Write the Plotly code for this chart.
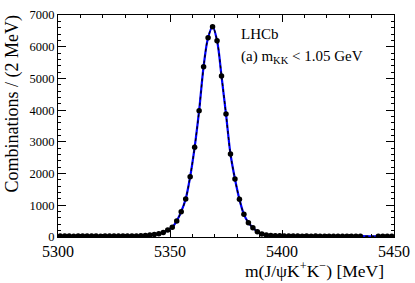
import plotly.graph_objects as go

# bin centres (2 MeV bins)
mass = [5301 + 2 * i for i in range(75)]
counts = [
    30, 28, 32, 27, 30, 29, 31, 28, 30, 27,   # 5301-5319
    30, 29, 31, 30, 28, 33, 32, 35, 40, 48,   # 5321-5339
    60, 78, 105, 140, 220, 305, 504, 798, 1198, 1901,  # 5341-5359
    2828, 3982, 5370, 6284, 6630, 6190, 5076, 3878, 2617, 1829,  # 5361-5379
    1188, 714, 451, 293, 167, 95, 65, 50, 42, 36,  # 5381-5399
    32, 30, 28, 29, 27, 30, 26, 28, 27, 25,   # 5401-5419
    26, 27, 24, 25, 26, 25, 24, 25, None, None,  # 5421-5439
    None, 22, 23, 24, 22,  # 5441-5449
]
x_ticks = [5300, 5350, 5400, 5450]
y_ticks = [0, 1000, 2000, 3000, 4000, 5000, 6000, 7000]
x_title = "m(J/ψK<sup>+</sup>K<sup>−</sup>) [MeV]"
y_title = "Combinations / (2 MeV)"

font_family = "Liberation Serif, Times New Roman, serif"

fig = go.Figure()
fig.add_trace(go.Scatter(x=mass, y=counts, mode="lines", line=dict(color="#0000ff", width=2.2, shape="spline"),
                         connectgaps=True, hoverinfo="skip"))
fig.add_trace(go.Scatter(x=mass, y=counts, mode="lines", line=dict(color="black", width=1.3, dash="3px,3px", shape="spline"),
                         connectgaps=True, hoverinfo="skip"))
fig.add_trace(go.Scatter(x=mass, y=counts, mode="markers", marker=dict(color="black", size=5.5)))

axis_common = dict(showline=True, linecolor="black", linewidth=1, mirror="ticks", ticks="inside",
                   tickcolor="black", showgrid=False, zeroline=False, automargin=False,
                   minor=dict(ticks="inside", ticklen=3, tickcolor="black"))

fig.update_xaxes(range=[5300, 5450], tickvals=x_ticks, ticklen=7,
                 tickfont=dict(size=16, family=font_family, color="black"),
                 minor_dtick=10, **axis_common)
fig.update_yaxes(range=[0, 7000], tickvals=y_ticks, ticklen=8,
                 tickfont=dict(size=12.5, family=font_family, color="black"),
                 minor_dtick=200, **axis_common)

fig.add_annotation(x=0.975, y=-0.09, xref="paper", yref="paper", xanchor="right", yanchor="top", showarrow=False,
                   text=x_title, font=dict(size=17.5, family=font_family, color="black"))
fig.add_annotation(x=-0.135, y=1.01, xref="paper", yref="paper", xanchor="center", yanchor="top", showarrow=False,
                   textangle=-90, text=y_title, font=dict(size=18, family=font_family, color="black"))

fig.add_annotation(x=0.538, y=0.915, xref="paper", yref="paper", xanchor="left", yanchor="middle", showarrow=False,
                   text="LHCb", font=dict(size=15, family=font_family, color="black"))
fig.add_annotation(x=0.538, y=0.81, xref="paper", yref="paper", xanchor="left", yanchor="middle", showarrow=False,
                   text="(a) m<sub>KK</sub> < 1.05 GeV", font=dict(size=15, family=font_family, color="black"))

fig.update_layout(width=415, height=283, margin=dict(l=58, r=21, t=15, b=46), showlegend=False,
                  font=dict(family=font_family, color="black"),
                  plot_bgcolor="white", paper_bgcolor="white")
fig.write_html("out.html", config={"displayModeBar": False},
               post_script="document.body.style.margin='0';document.body.style.overflow='hidden';")
